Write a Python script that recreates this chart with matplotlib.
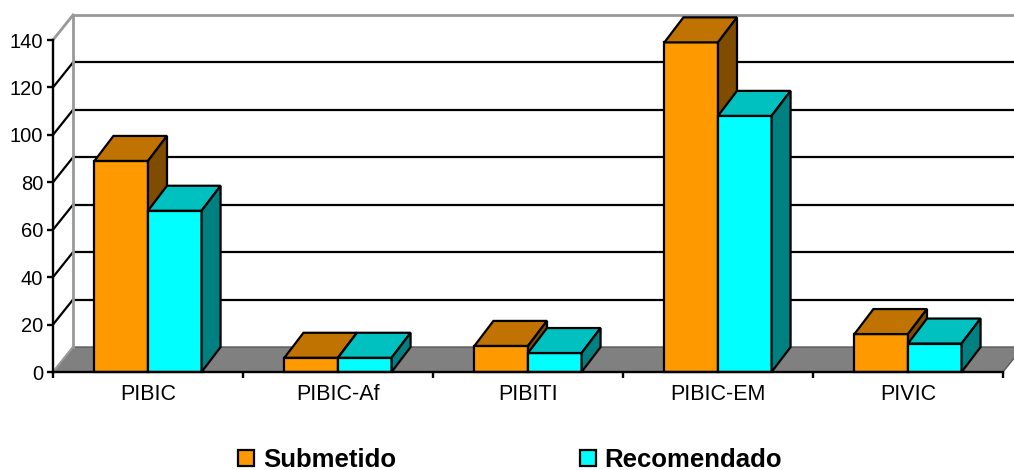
import matplotlib
matplotlib.use("Agg")
import matplotlib.pyplot as plt
from matplotlib.patches import Polygon, Patch

plt.rcParams['font.family'] = ['Liberation Sans', 'DejaVu Sans']

categories = ["PIBIC", "PIBIC-Af", "PIBITI", "PIBIC-EM", "PIVIC"]
submetido = [89, 6, 11, 139, 16]
recomendado = [68, 6, 8, 108, 12]
series_names = ["Submetido", "Recomendado"]
y_ticks = [0, 20, 40, 60, 80, 100, 120, 140]

face_colors = ["#FF9900", "#00FFFF"]
top_colors = ["#C07300", "#00C0C0"]
side_colors = ["#804C00", "#008080"]

W, H = 1014, 470
fig = plt.figure(figsize=(W / 100, H / 100), dpi=100)
x0px, x1px, y0px, y1px = 53, 1003, 372, 40
ax = fig.add_axes([x0px / W, (H - y0px) / H, (x1px - x0px) / W, (y0px - y1px) / H])
n = len(categories)
ymax = 140
ax.set_xlim(0, n)
ax.set_ylim(0, ymax)

px_x = (x1px - x0px) / n
px_y = (y0px - y1px) / ymax
wdx, wdy = 20 / px_x, 25 / px_y   # wall depth
bdx, bdy = 19 / px_x, 25 / px_y   # bar depth

# floor
ax.add_patch(Polygon([(0, 0), (wdx, wdy), (n + wdx, wdy), (n, 0)], closed=True,
                     facecolor="#808080", edgecolor="#5a5a5a", lw=1.0, clip_on=False, zorder=1))
# back wall gridlines and left-wall diagonals
for v in y_ticks[1:]:
    col = "#999999" if v == ymax else "black"
    lw = 2.0 if v == ymax else 1.6
    ax.plot([wdx, n + wdx + 0.2], [v + wdy, v + wdy], color=col, lw=lw, clip_on=False, zorder=1,
            solid_capstyle="butt")
    ax.plot([0, wdx], [v, v + wdy], color=col, lw=lw, clip_on=False, zorder=1)
ax.plot([0, wdx], [0, wdy], color="#999999", lw=1.5, clip_on=False, zorder=1)
ax.plot([wdx, wdx], [wdy, ymax + wdy], color="#999999", lw=2.0, clip_on=False, zorder=1)

# bars
w = 0.282
for i in range(n):
    for j, vals in enumerate([submetido, recomendado]):
        v = vals[i]
        xa = i + 0.5 - w + j * w
        xb = xa + w
        kw = dict(closed=True, edgecolor="black", lw=1.6, joinstyle="miter", clip_on=False, zorder=3)
        ax.add_patch(Polygon([(xa, 0), (xb, 0), (xb, v), (xa, v)], facecolor=face_colors[j], **kw))
        ax.add_patch(Polygon([(xa, v), (xb, v), (xb + bdx, v + bdy), (xa + bdx, v + bdy)],
                             facecolor=top_colors[j], **kw))
        ax.add_patch(Polygon([(xb, 0), (xb + bdx, bdy), (xb + bdx, v + bdy), (xb, v)],
                             facecolor=side_colors[j], **kw))

# axes styling
for s in ["top", "right"]:
    ax.spines[s].set_visible(False)
for s in ["left", "bottom"]:
    ax.spines[s].set_color("black")
    ax.spines[s].set_linewidth(1.7)
    ax.spines[s].set_zorder(4)
ax.set_facecolor("none")
ax.set_yticks(y_ticks)
ax.tick_params(axis="y", length=4, width=1.7, pad=3, labelsize=14.5, color="black")
ax.set_xticks([i + 0.5 for i in range(n)])
ax.set_xticklabels(categories)
ax.set_xticks(range(n + 1), minor=True)
ax.tick_params(axis="x", which="major", length=0, pad=9, labelsize=15.5)
ax.tick_params(axis="x", which="minor", length=4, width=1.7, color="black")

handles = [Patch(facecolor=face_colors[k], edgecolor="black", lw=1.6) for k in range(2)]
fig.legend(handles, series_names, loc="center left", bbox_to_anchor=(238 / W, 1 - 460 / H),
           ncol=2, frameon=False, borderpad=0, borderaxespad=0, handlelength=0.62,
           handleheight=0.62, handletextpad=0.35, columnspacing=7.15,
           prop={"size": 18.5, "weight": "bold"})

fig.savefig("out.png", dpi=100)
